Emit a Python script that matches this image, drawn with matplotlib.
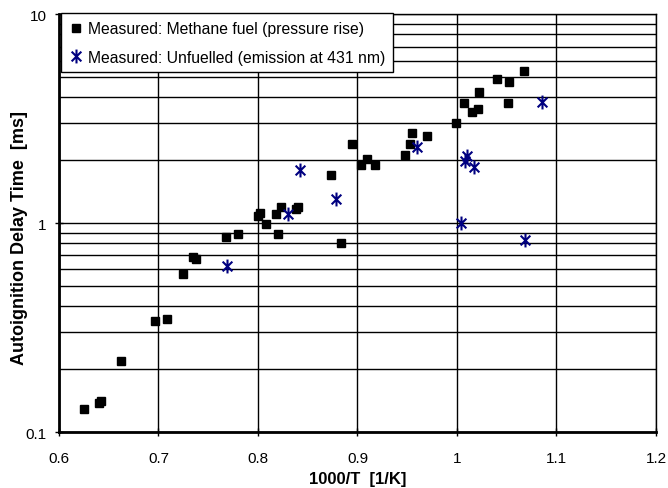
import numpy as np
import matplotlib.pyplot as plt
from matplotlib.path import Path
from matplotlib.ticker import LogLocator, FixedLocator, FuncFormatter, NullFormatter

plt.rcParams['font.family'] = ['Liberation Sans', 'DejaVu Sans']

# measured, methane fuel (pressure rise)
fuel_x = [0.625, 0.640, 0.642, 0.662, 0.697, 0.709, 0.725, 0.735, 0.738, 0.768,
          0.780, 0.800, 0.802, 0.808, 0.818, 0.820, 0.823, 0.838, 0.840, 0.873,
          0.883, 0.894, 0.904, 0.910, 0.918, 0.948, 0.953, 0.955, 0.970, 0.999,
          1.007, 1.015, 1.021, 1.022, 1.040, 1.051, 1.052, 1.067]
fuel_t = [0.129, 0.137, 0.141, 0.218, 0.339, 0.346, 0.57, 0.685, 0.673, 0.855,
          0.89, 1.08, 1.12, 0.99, 1.10, 0.89, 1.20, 1.17, 1.20, 1.69,
          0.80, 2.40, 1.90, 2.02, 1.90, 2.11, 2.40, 2.69, 2.60, 3.00,
          3.75, 3.42, 3.50, 4.22, 4.92, 3.75, 4.71, 5.32]

# measured, unfuelled (emission at 431 nm)
unf_x = [0.769, 0.830, 0.842, 0.878, 0.960, 1.004, 1.008, 1.010, 1.017, 1.068, 1.085]
unf_t = [0.62, 1.10, 1.80, 1.30, 2.32, 1.00, 1.99, 2.10, 1.85, 0.83, 3.78]

# excel style asterisk: X with a vertical bar
star = Path([(-0.7, -0.7), (0.7, 0.7), (-0.7, 0.7), (0.7, -0.7), (0, -1), (0, 1)],
            [Path.MOVETO, Path.LINETO, Path.MOVETO, Path.LINETO, Path.MOVETO, Path.LINETO])

fig = plt.figure(figsize=(6.68, 4.89), dpi=100)
ax = fig.add_axes([0.0883, 0.1145, 0.8937, 0.8545])

ax.plot(fuel_x, fuel_t, 's', color='black', markersize=5.8, linestyle='none', zorder=3,
        label='Measured: Methane fuel (pressure rise)')
ax.plot(unf_x, unf_t, marker=star, color='#000080', markersize=10, markeredgewidth=1.5,
        linestyle='none', zorder=3, label='Measured: Unfuelled (emission at 431 nm)')

ax.set_yscale('log')
ax.set_xlim(0.6, 1.2)
ax.set_ylim(0.1, 10)

ax.xaxis.set_major_locator(FixedLocator([0.6, 0.7, 0.8, 0.9, 1.0, 1.1, 1.2]))
ax.xaxis.set_major_formatter(FuncFormatter(lambda v, p: '%g' % round(v, 2)))
ax.yaxis.set_major_locator(FixedLocator([0.1, 1, 10]))
ax.yaxis.set_major_formatter(FuncFormatter(lambda v, p: '%g' % v))
ax.yaxis.set_minor_locator(LogLocator(base=10, subs=np.arange(2, 10)))
ax.yaxis.set_minor_formatter(NullFormatter())

ax.grid(True, which='major', axis='x', color='black', linewidth=1)
ax.grid(True, which='both', axis='y', color='black', linewidth=1)
ax.set_axisbelow(True)
ax.tick_params(axis='both', which='major', direction='inout', length=6, width=1,
               labelsize=11, color='black')
ax.tick_params(axis='y', which='minor', length=0)
ax.tick_params(axis='x', pad=11)
ax.tick_params(axis='y', pad=6)

for s in ['top', 'right']:
    ax.spines[s].set_linewidth(1)
for s in ['left', 'bottom']:
    ax.spines[s].set_linewidth(2)

ax.set_xlabel('1000/T  [1/K]', fontsize=12, fontweight='bold', labelpad=4)
ax.set_ylabel('Autoignition Delay Time  [ms]', fontsize=13, fontweight='bold')
ax.yaxis.set_label_coords(-0.052, 0.4665)

leg = ax.legend(loc='upper left', bbox_to_anchor=(0.003, 1.002), fontsize=11.3,
                frameon=True, fancybox=False, edgecolor='black', framealpha=1,
                handletextpad=0.35, handlelength=0.9, borderpad=0.5, labelspacing=0.85,
                borderaxespad=0)
leg.get_frame().set_linewidth(1)

fig.savefig('out.png', dpi=100)
